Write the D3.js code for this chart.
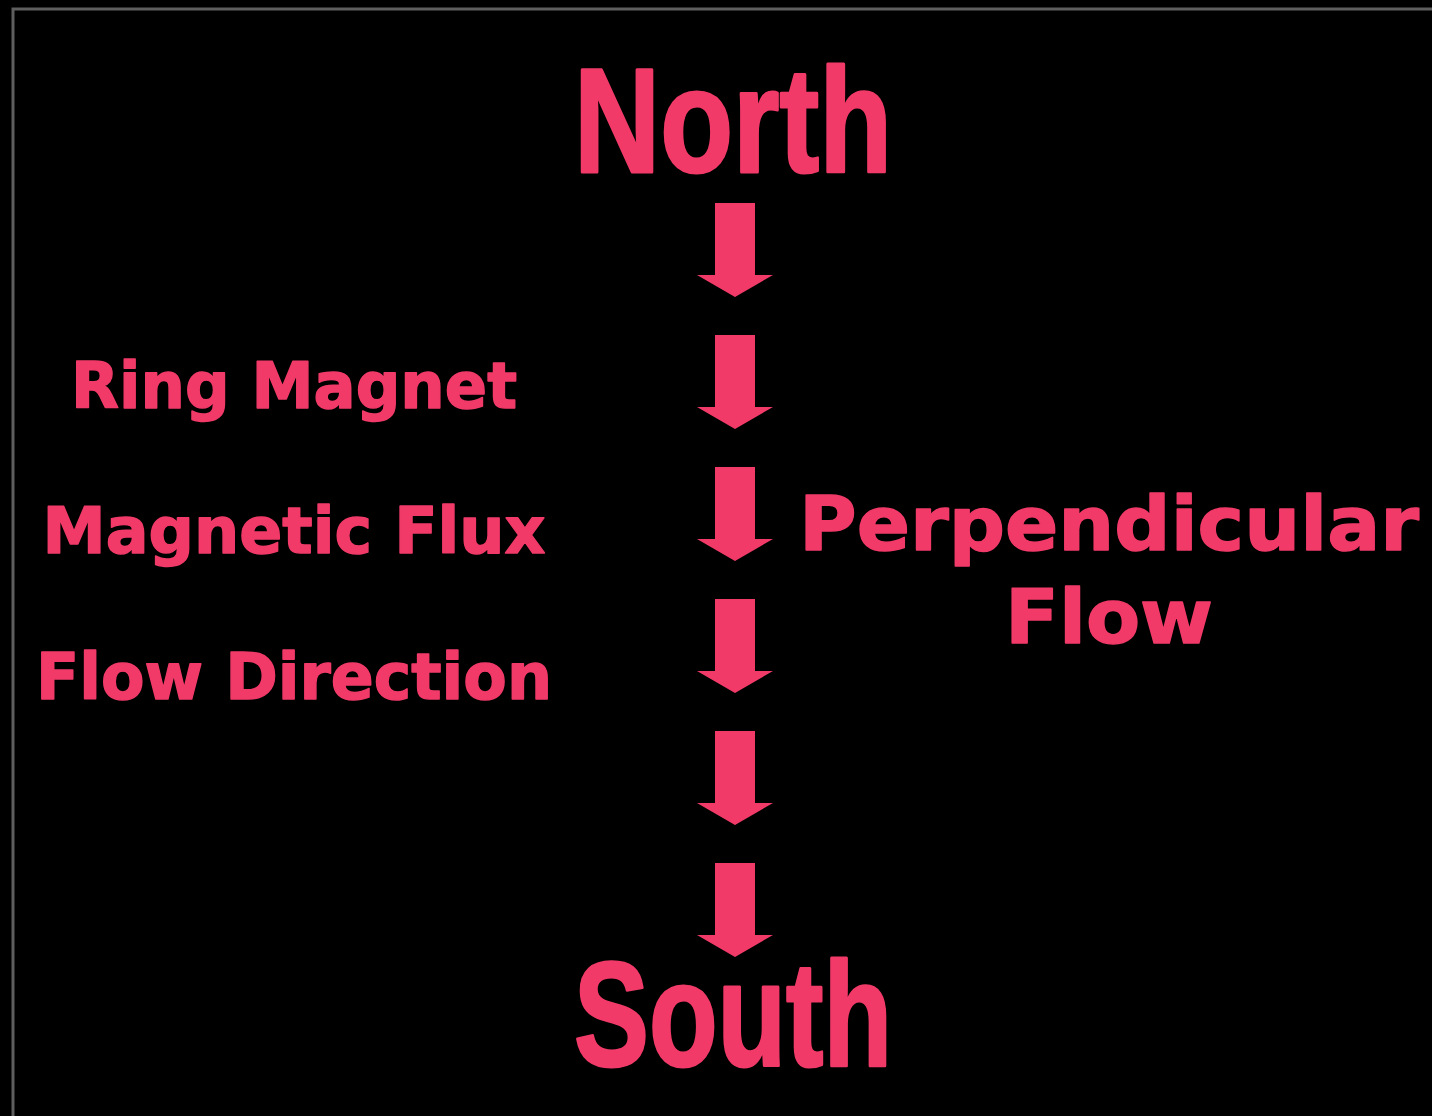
<!DOCTYPE html>
<html>
<head>
<meta charset="utf-8">
<script src="https://cdn.jsdelivr.net/npm/d3@7"></script>
<style>
  html, body { margin: 0; padding: 0; background: #000; }
  svg { display: block; }
</style>
</head>
<body>
<svg id="chart"></svg>
<script>
// poles, side labels and the flux arrows
const poles = ["North", "South"];
const leftLabels = ["Ring Magnet", "Magnetic Flux", "Flow Direction"];
const rightLabels = ["Perpendicular", "Flow"];
const arrowSteps = [0, 1, 2, 3, 4, 5];

const width = 1432;
const height = 1116;
const pink = "#f23a69";

const svg = d3.select("#chart")
  .attr("width", width)
  .attr("height", height);

svg.append("rect")
  .attr("width", width)
  .attr("height", height)
  .attr("fill", "#000");

// frame: only top and left edges are visible
svg.append("path")
  .attr("d", `M13,${height} L13,9 L${width},9`)
  .attr("fill", "none")
  .attr("stroke", "#5e5e5e")
  .attr("stroke-width", 3);

const cx = 735;

// arrows down the middle
const y = d3.scaleLinear()
  .domain(d3.extent(arrowSteps))
  .range([203, 863]);

const shaftW = 40, shaftH = 72, headW = 76, headH = 22;
const arrowPath = d3.path();
arrowPath.moveTo(-shaftW / 2, 0);
arrowPath.lineTo(shaftW / 2, 0);
arrowPath.lineTo(shaftW / 2, shaftH);
arrowPath.lineTo(headW / 2, shaftH);
arrowPath.lineTo(0, shaftH + headH);
arrowPath.lineTo(-headW / 2, shaftH);
arrowPath.lineTo(-shaftW / 2, shaftH);
arrowPath.closePath();

svg.append("g")
  .selectAll("path")
  .data(arrowSteps)
  .join("path")
  .attr("transform", d => `translate(${cx},${y(d)})`)
  .attr("d", arrowPath.toString())
  .attr("fill", pink);

// North / South
const poleY = d3.scaleOrdinal().domain(poles).range([172, 1066]);
svg.append("g")
  .selectAll("text")
  .data(poles)
  .join("text")
  .attr("x", 733)
  .attr("y", d => poleY(d))
  .attr("text-anchor", "middle")
  .attr("font-family", "'Liberation Sans Narrow', 'Arial Narrow', 'Liberation Sans', sans-serif")
  .attr("font-weight", "bold")
  .attr("font-size", 148)
  .attr("textLength", 318)
  .attr("lengthAdjust", "spacingAndGlyphs")
  .attr("fill", pink)
  .attr("stroke", pink)
  .attr("stroke-width", 3)
  .attr("stroke-linejoin", "round")
  .text(d => d);

// left labels
const leftY = d3.scaleOrdinal().domain(leftLabels).range([408, 553, 699]);
const leftW = d3.scaleOrdinal().domain(leftLabels).range([446, 503, 516]);
svg.append("g")
  .selectAll("text")
  .data(leftLabels)
  .join("text")
  .attr("x", 294)
  .attr("y", d => leftY(d))
  .attr("text-anchor", "middle")
  .attr("font-family", "'DejaVu Sans', Verdana, sans-serif")
  .attr("font-weight", "bold")
  .attr("font-size", 64)
  .attr("textLength", d => leftW(d))
  .attr("lengthAdjust", "spacingAndGlyphs")
  .attr("fill", pink)
  .attr("stroke", pink)
  .attr("stroke-width", 1.5)
  .attr("stroke-linejoin", "round")
  .text(d => d);

// right label
const rightY = d3.scaleOrdinal().domain(rightLabels).range([550, 643]);
const rightW = d3.scaleOrdinal().domain(rightLabels).range([620, 208]);
svg.append("g")
  .selectAll("text")
  .data(rightLabels)
  .join("text")
  .attr("x", 1109)
  .attr("y", d => rightY(d))
  .attr("text-anchor", "middle")
  .attr("font-family", "'DejaVu Sans', Verdana, sans-serif")
  .attr("font-weight", "bold")
  .attr("font-size", 74)
  .attr("textLength", d => rightW(d))
  .attr("lengthAdjust", "spacingAndGlyphs")
  .attr("fill", pink)
  .attr("stroke", pink)
  .attr("stroke-width", 1.5)
  .attr("stroke-linejoin", "round")
  .text(d => d);
</script>
</body>
</html>
